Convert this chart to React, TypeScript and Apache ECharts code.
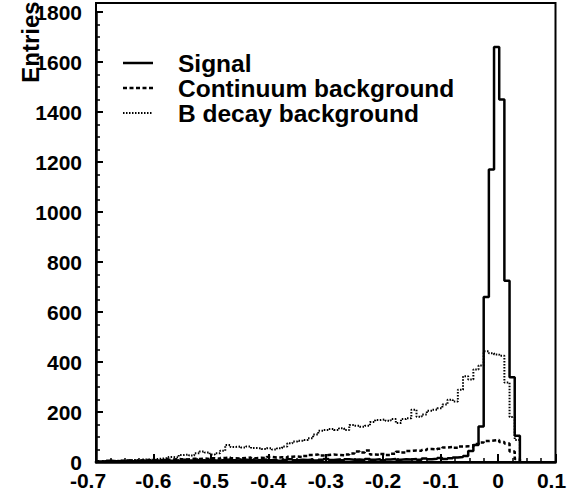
import React, { useEffect, useRef } from 'react';
import * as echarts from 'echarts';

// Axis ranges / binning
const X_MIN = -0.7;
const X_MAX = 0.1;
const BIN_WIDTH = 0.009;
const Y_MIN = 0;
const Y_MAX = 1800;

// Tick labels
const X_TICK_LABELS = ['-0.7', '-0.6', '-0.5', '-0.4', '-0.3', '-0.2', '-0.1', '0', '0.1'];
const Y_TICK_LABELS = ['0', '200', '400', '600', '800', '1000', '1200', '1400', '1600', '1800'];

// Series names
const SERIES_NAMES = ['Signal', 'Continuum background', 'B decay background'];

// Bin contents (bin k starts at X_MIN + k * BIN_WIDTH)
const signal = [
  2, 0, 5, 3, 4, 2, 6, 3, 5, 4,
  3, 6, 4, 8, 5, 7, 4, 9, 6, 8,
  7, 5, 9, 6, 8, 10, 7, 5, 9, 8,
  6, 8, 10, 7, 9, 5, 8, 11, 7, 9,
  8, 10, 6, 9, 12, 8, 10, 7, 11, 9,
  10, 8, 12, 9, 11, 7, 10, 12, 9, 11,
  10, 12, 9, 14, 11, 13, 16, 12, 15, 18,
  20, 24, 44, 68, 142, 660, 1170, 1660, 1450, 725,
  339, 105,
];

const continuum = [
  3, 2, 4, 3, 5, 4, 6, 5, 6, 8,
  7, 6, 8, 9, 10, 12, 10, 11, 13, 12,
  14, 12, 15, 13, 16, 18, 15, 14, 16, 18,
  15, 17, 16, 20, 18, 19, 17, 21, 22, 20,
  24, 28, 30, 26, 28, 30, 28, 27, 30, 34,
  42, 38, 46, 30, 28, 32, 28, 33, 41, 38,
  44, 46, 45, 48, 52, 50, 53, 58, 60, 57,
  62, 63, 61, 72, 78, 84, 86, 88, 80, 74,
  42, 12,
];

const bDecay = [
  2, 3, 4, 3, 5, 6, 5, 8, 7, 10,
  9, 12, 14, 16, 20, 18, 28, 30, 26, 35,
  42, 38, 30, 35, 45, 68, 60, 62, 58, 62,
  56, 55, 52, 55, 50, 55, 62, 75, 82, 85,
  88, 95, 110, 125, 128, 132, 128, 135, 128, 148,
  145, 141, 145, 160, 168, 170, 165, 172, 156, 172,
  175, 209, 181, 190, 205, 209, 215, 230, 249, 242,
  289, 343, 330, 370, 386, 443, 435, 430, 425, 318,
  180, 88,
];

const FONT = "'Liberation Sans', Arial, Helvetica, sans-serif";

const LINE_STYLES = [
  { width: 2.5, dash: null as number[] | null },
  { width: 2.5, dash: [4, 2.5] },
  { width: 2, dash: [1.5, 1.5] },
];

function stepData(values: number[]): number[][] {
  const pts: number[][] = [[X_MIN, 0]];
  values.forEach((v, i) => {
    pts.push([+(X_MIN + i * BIN_WIDTH).toFixed(4), v]);
  });
  pts.push([+(X_MIN + values.length * BIN_WIDTH).toFixed(4), 0]);
  return pts;
}

function fmtX(v: number): string {
  const s = String(+v.toFixed(2));
  const idx = X_TICK_LABELS.indexOf(s);
  const label = idx >= 0 ? X_TICK_LABELS[idx] : s;
  if (idx === 0) return '{a|' + label + '}';
  if (idx === X_TICK_LABELS.length - 1) return '{b|' + label + '}';
  return label;
}

export default function App() {
  const ref = useRef<HTMLDivElement>(null);

  useEffect(() => {
    if (!ref.current) return;
    const chart = echarts.init(ref.current, undefined, { renderer: 'svg' });
    const labelStyle = {
      fontSize: 21,
      lineHeight: 17,
      fontWeight: 'bold' as const,
      fontFamily: FONT,
      color: '#000',
    };

    const legendY = [63, 88, 113];

    const graphic: any[] = [
      {
        type: 'rect',
        shape: { x: 96, y: 3, width: 459.5, height: 459 },
        style: { fill: 'none', stroke: '#000', lineWidth: 2 },
        silent: true,
        z: 10,
      },
      {
        type: 'text',
        x: 30,
        y: 42,
        rotation: Math.PI / 2,
        style: {
          text: 'Entries',
          fontSize: 24,
          fontWeight: 'bold',
          fontFamily: FONT,
          fill: '#000',
          align: 'center',
          verticalAlign: 'middle',
        },
      },
    ];
    legendY.forEach((y, i) => {
      graphic.push({
        type: 'line',
        shape: { x1: 123, y1: y, x2: 153, y2: y },
        style: { stroke: '#000', lineWidth: LINE_STYLES[i].width, lineDash: LINE_STYLES[i].dash },
      });
      graphic.push({
        type: 'text',
        x: 178,
        y,
        style: {
          text: SERIES_NAMES[i],
          fontSize: 24.5,
          fontWeight: 'bold',
          fontFamily: FONT,
          fill: '#000',
          align: 'left',
          verticalAlign: 'middle',
        },
      });
    });

    const seriesValues = [signal, continuum, bDecay];
    const series = [2, 1, 0].map((i) => ({
      name: SERIES_NAMES[i],
      type: 'line',
      step: 'end',
      symbol: 'none',
      data: stepData(seriesValues[i]),
      lineStyle: {
        color: '#000',
        width: LINE_STYLES[i].width,
        type: LINE_STYLES[i].dash ? LINE_STYLES[i].dash : 'solid',
      },
      z: 5 - i,
    }));

    chart.setOption({
      animation: false,
      backgroundColor: '#fff',
      grid: { left: 96, right: 24.5, top: 12, bottom: 29, containLabel: false },
      xAxis: {
        type: 'value',
        min: X_MIN,
        max: X_MAX,
        interval: 0.1,
        axisLine: { show: true, onZero: false, lineStyle: { color: '#000', width: 2.5 } },
        axisTick: { show: true, inside: true, length: 8, lineStyle: { color: '#000', width: 2 } },
        minorTick: { show: true, splitNumber: 4, length: 4, lineStyle: { color: '#000', width: 1.5 } },
        splitLine: { show: false },
        minorSplitLine: { show: false },
        axisLabel: {
          ...labelStyle,
          margin: 10,
          formatter: fmtX,
          rich: {
            a: { ...labelStyle, padding: [0, 16, 0, 0] },
            b: { ...labelStyle, padding: [0, 8, 0, 0] },
          },
        },
      },
      yAxis: {
        type: 'value',
        min: Y_MIN,
        max: Y_MAX,
        interval: 200,
        axisLine: { show: true, onZero: false, lineStyle: { color: '#000', width: 2.5 } },
        axisTick: { show: true, inside: true, length: 7, lineStyle: { color: '#000', width: 2 } },
        minorTick: { show: true, splitNumber: 4, length: 4, lineStyle: { color: '#000', width: 1.5 } },
        splitLine: { show: false },
        minorSplitLine: { show: false },
        axisLabel: {
          ...labelStyle,
          margin: 14,
          formatter: (v: number) => {
            const s = String(Math.round(v));
            return Y_TICK_LABELS.includes(s) ? s : '';
          },
        },
      },
      graphic,
      series,
    });

    return () => chart.dispose();
  }, []);

  return (
    <div
      ref={ref}
      style={{ position: 'absolute', left: 0, top: 0, width: 580, height: 491, background: '#fff' }}
    />
  );
}
